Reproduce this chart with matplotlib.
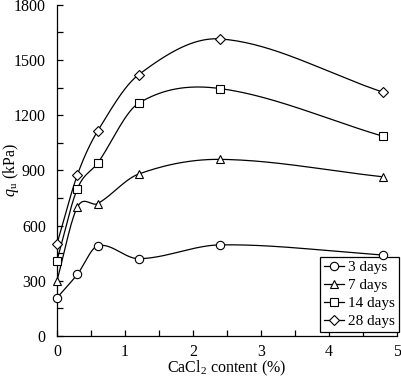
import numpy as np
import matplotlib
matplotlib.use('Agg')
import matplotlib.pyplot as plt
from matplotlib.lines import Line2D

plt.rcParams['font.family'] = ['Liberation Serif', 'DejaVu Serif']
plt.rcParams['mathtext.fontset'] = 'custom'
plt.rcParams['mathtext.rm'] = 'Liberation Serif'
plt.rcParams['mathtext.it'] = 'Liberation Serif:italic'

# CaCl2 content (%)
cacl2 = [0, 0.3, 0.6, 1.2, 2.4, 4.8]

# unconfined compressive strength (kPa)
qu_3d = [207, 335, 490, 420, 495, 440]
qu_7d = [300, 700, 720, 880, 960, 865]
qu_14d = [410, 800, 940, 1265, 1345, 1085]
qu_28d = [500, 875, 1115, 1420, 1615, 1325]

labels = ['3 days', '7 days', '14 days', '28 days']
markers = ['o', '^', 's', 'D']


# smoothed line through the points (cubic hermite in x)
def smooth(x, y, n=40):
    x = np.asarray(x, float)
    y = np.asarray(y, float)
    m = np.zeros_like(y)
    m[0] = (y[1] - y[0]) / (x[1] - x[0])
    m[-1] = (y[-1] - y[-2]) / (x[-1] - x[-2])
    for i in range(1, len(x) - 1):
        m[i] = (y[i + 1] - y[i - 1]) / (x[i + 1] - x[i - 1])
    xs, ys = [], []
    t = np.linspace(0, 1, n)
    for i in range(len(x) - 1):
        h = x[i + 1] - x[i]
        h00 = 2*t**3 - 3*t**2 + 1
        h10 = t**3 - 2*t**2 + t
        h01 = -2*t**3 + 3*t**2
        h11 = t**3 - t**2
        xs.append(x[i] + t * h)
        ys.append(h00*y[i] + h10*h*m[i] + h01*y[i + 1] + h11*h*m[i + 1])
    return np.concatenate(xs), np.concatenate(ys)


fig = plt.figure(figsize=(4.01, 3.77), dpi=100)
ax = fig.add_axes([0.142, 0.109, 0.848, 0.878])

handles = []
for y, lab, m in zip([qu_3d, qu_7d, qu_14d, qu_28d], labels, markers):
    sx, sy = smooth(cacl2, y)
    ax.plot(sx, sy, color='black', lw=0.9, zorder=2)
    ms = 6 if m != 'D' else 5
    ax.plot(cacl2, y, linestyle='none', marker=m, ms=ms, mfc='white',
            mec='black', mew=0.8, zorder=6, clip_on=False)
    handles.append(Line2D([], [], color='black', lw=0.9, marker=m, ms=ms,
                          mfc='white', mec='black', mew=0.8, label=lab))

ax.set_xlim(0, 5)
ax.set_ylim(0, 1800)
ax.set_xticks([0, 1, 2, 3, 4, 5])
ax.set_xticks([0.5, 1.5, 2.5, 3.5, 4.5], minor=True)
ax.set_yticks([0, 300, 600, 900, 1200, 1500, 1800])
ax.set_yticks([150, 450, 750, 1050, 1350, 1650], minor=True)
ax.spines['top'].set_visible(False)
ax.spines['right'].set_visible(False)
for s in ['left', 'bottom']:
    ax.spines[s].set_linewidth(0.9)
ax.tick_params(which='both', direction='in', labelsize=11.5, width=0.9)
ax.tick_params(which='both', length=4)
ax.tick_params(axis='y', pad=8)
ax.tick_params(axis='x', pad=6)

ax.set_xlabel('CaCl$_2$ content (%)', fontsize=11.5, labelpad=-1)
ax.set_ylabel('$q$$_\\mathrm{u}$ (kPa)', fontsize=11.5)
ax.yaxis.set_label_coords(-0.105, 0.5)

leg = ax.legend(handles=handles, loc='lower right', fontsize=11,
                bbox_to_anchor=(399 / 401, 1 - 332 / 377),
                bbox_transform=fig.transFigure, borderaxespad=0,
                frameon=True, fancybox=False, edgecolor='black',
                framealpha=1, handlelength=1.3, handletextpad=0.3,
                labelspacing=0.28, borderpad=0.25)
leg.get_frame().set_linewidth(0.9)
leg.set_zorder(4)

fig.savefig('out.png', dpi=100)
